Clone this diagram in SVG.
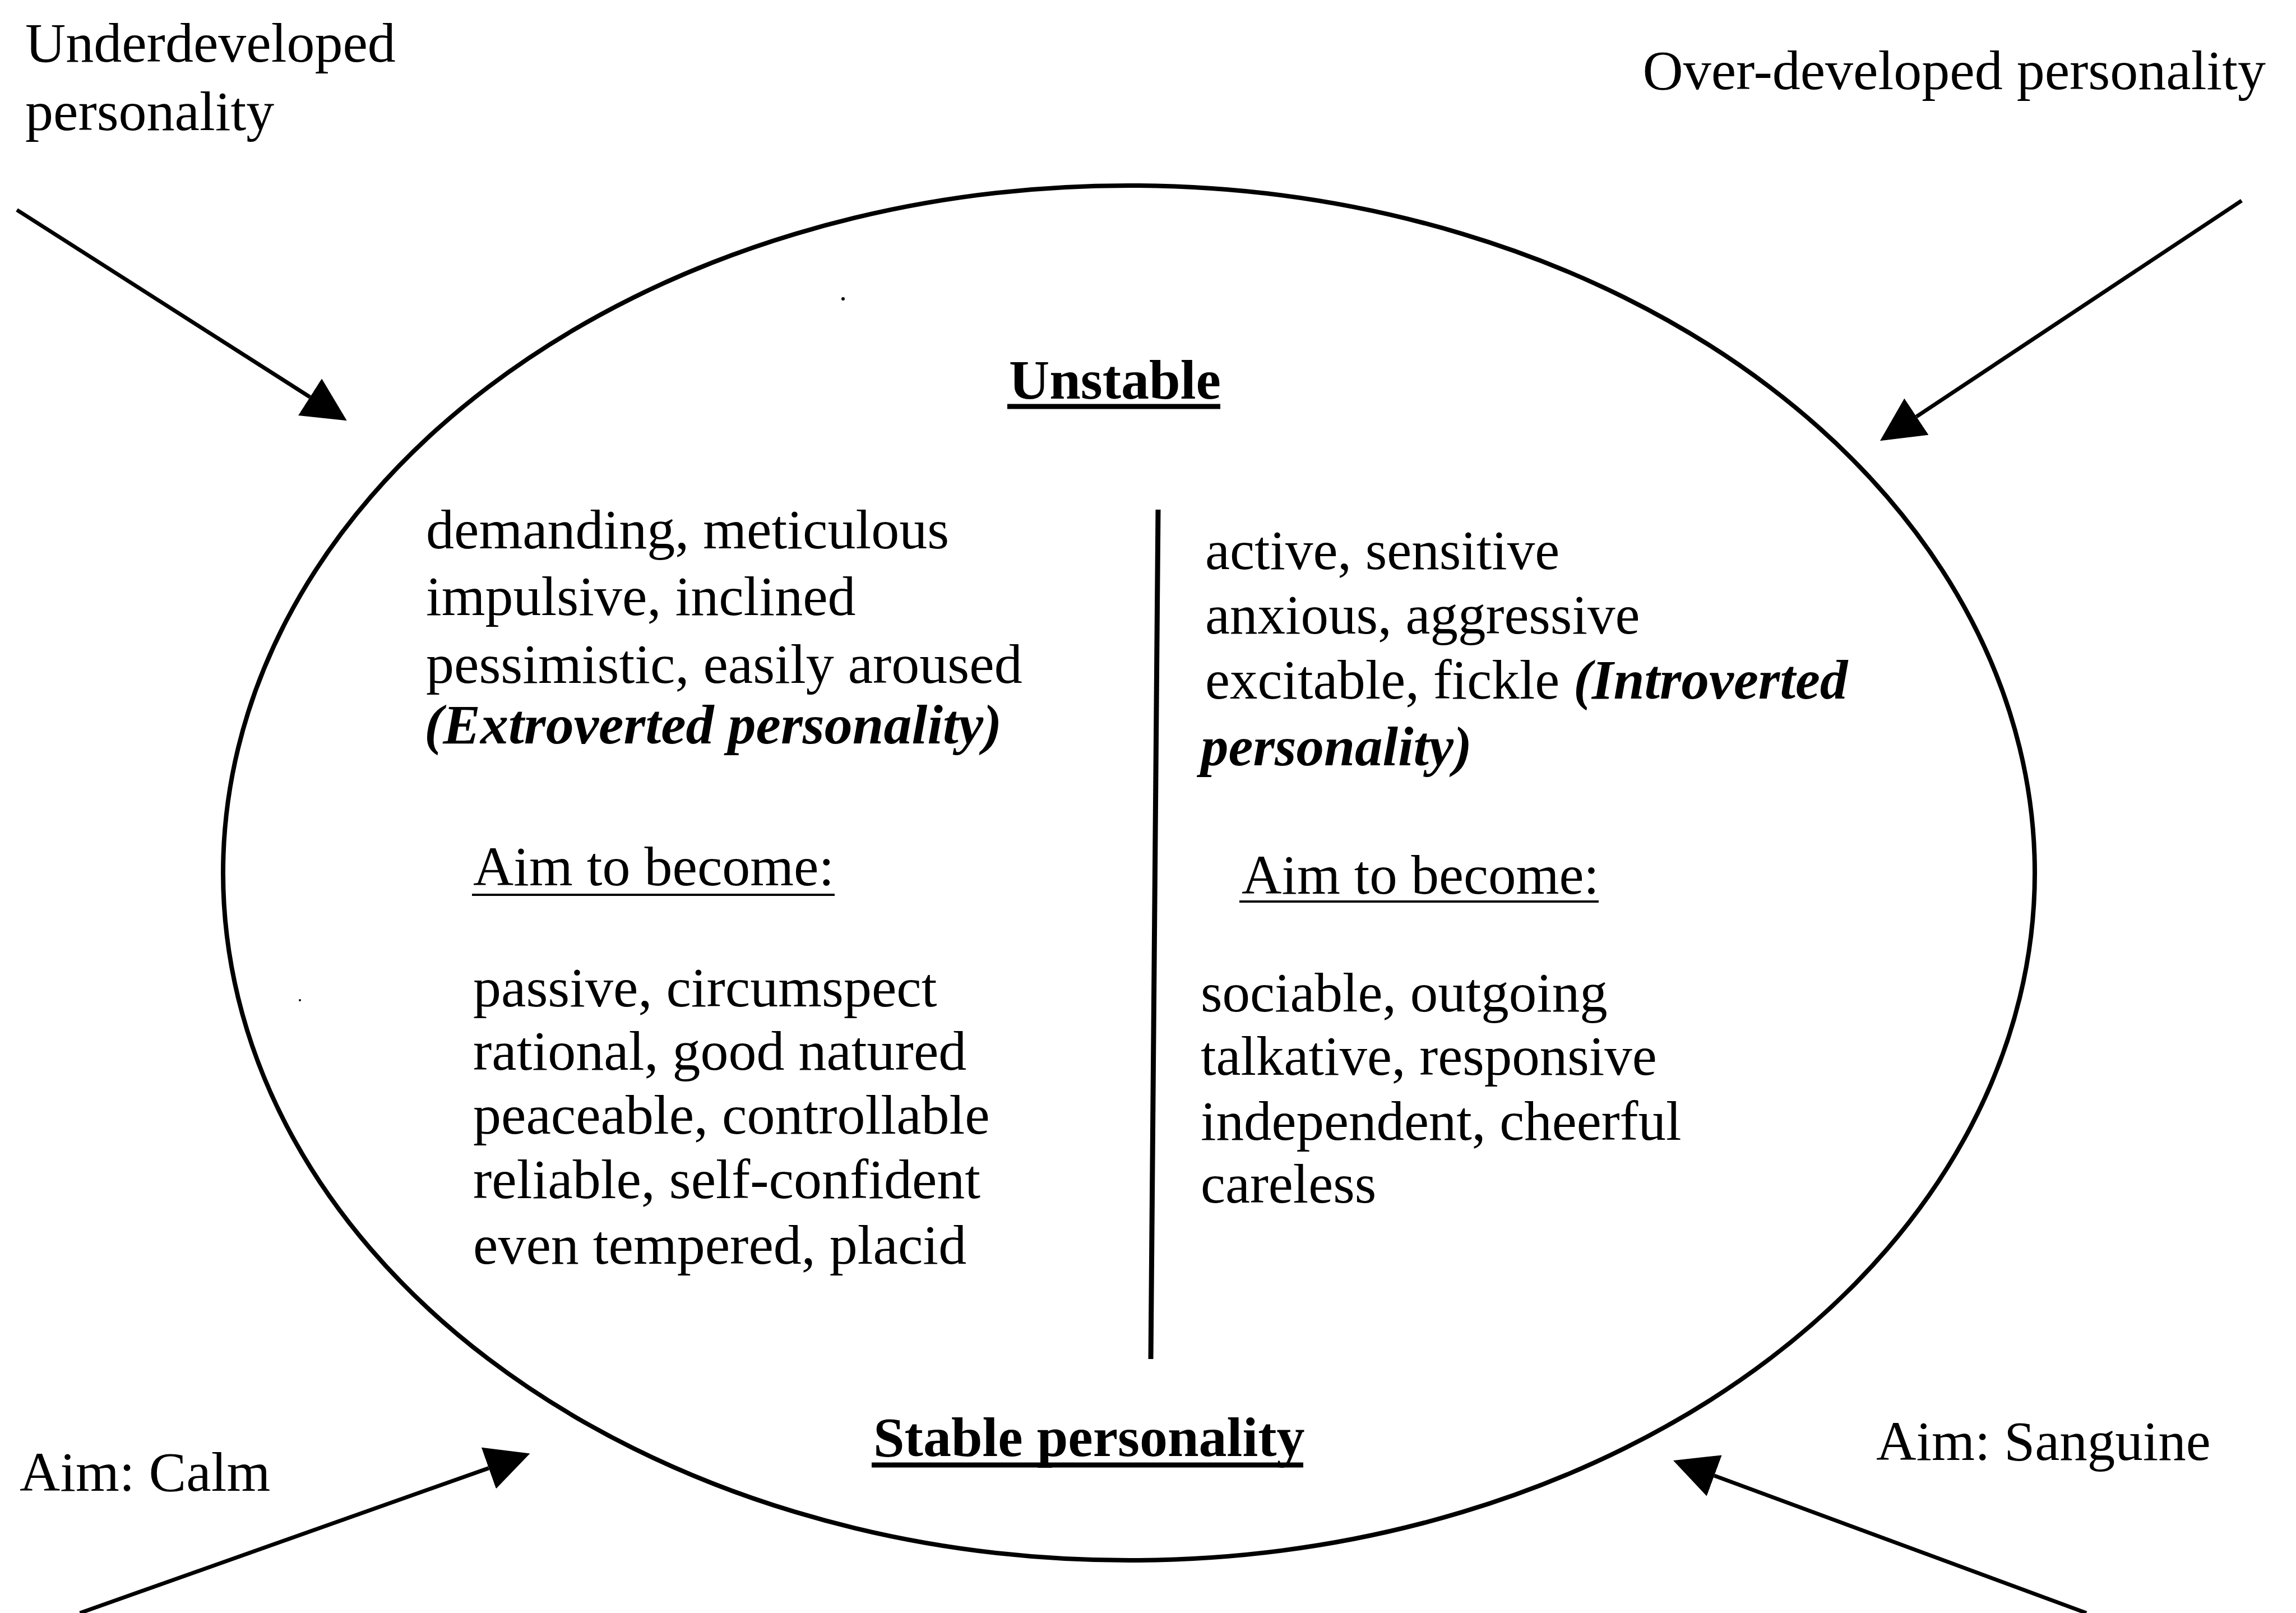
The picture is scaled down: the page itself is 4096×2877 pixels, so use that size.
<svg xmlns="http://www.w3.org/2000/svg" width="4096" height="2877" viewBox="0 0 4096 2877">
<defs>
<marker id="ah" markerUnits="userSpaceOnUse" markerWidth="78" markerHeight="78" viewBox="0 0 78 78" refX="0" refY="39" orient="auto"><path d="M0,0 L78,39 L0,78 Z" fill="#000"/></marker>
<style>
text{font-family:"Liberation Serif","Times New Roman",serif;font-size:100px;fill:#000}
.r{font-size:99px}
.b{font-weight:bold}
.bi{font-weight:bold;font-style:italic}
.ul{stroke:#000;fill:none}
.conn{stroke:#000;stroke-width:7;fill:none;marker-end:url(#ah)}
.shape{stroke:#000;fill:none}
</style>
</defs>
<rect width="4096" height="2877" fill="#fff"/>

<g id="ellipse">
<ellipse class="shape" cx="2014" cy="1557" rx="1616" ry="1226" stroke-width="8"/>
</g>

<g id="divider">
<line class="shape" x1="2066" y1="909" x2="2053" y2="2424" stroke-width="9"/>
</g>

<g id="connectors">
<path class="conn" d="M30.1,374.4 L553.0,708.2"/>
<path class="conn" d="M3999,357.8 L3418.9,743.1"/>
<path class="conn" d="M142.6,2877 L871.9,2618.6"/>
<path class="conn" d="M3722.1,2877 L3058.2,2632"/>
</g>

<g id="label-underdeveloped">
<text x="45" y="110">Underdeveloped</text>
<text x="45" y="232">personality</text>
</g>

<g id="label-overdeveloped">
<text x="4042" y="159" text-anchor="end">Over-developed personality</text>
</g>

<g id="title-unstable">
<text class="b" x="1800" y="711">Unstable</text>
<line class="ul" x1="1797" y1="725" x2="2177" y2="725" stroke-width="9"/>
</g>

<g id="extroverted">
<text x="760" y="978">demanding, meticulous</text>
<text x="760" y="1097">impulsive, inclined</text>
<text x="760" y="1218">pessimistic, easily aroused</text>
<text class="bi" x="757" y="1326">(Extroverted personality)</text>
</g>

<g id="introverted">
<text class="r" x="2150" y="1015">active, sensitive</text>
<text class="r" x="2150" y="1130">anxious, aggressive</text>
<text class="r" x="2150" y="1246">excitable, fickle <tspan class="bi">(Introverted</tspan></text>
<text class="r bi" x="2142" y="1365">personality)</text>
</g>

<g id="aim-left">
<text x="844" y="1579">Aim to become:</text>
<line class="ul" x1="842" y1="1596" x2="1489" y2="1596" stroke-width="4"/>
<text x="844" y="1795">passive, circumspect</text>
<text x="844" y="1908">rational, good natured</text>
<text x="844" y="2022">peaceable, controllable</text>
<text x="844" y="2137">reliable, self-confident</text>
<text x="844" y="2254">even tempered, placid</text>
</g>

<g id="aim-right">
<text class="r" x="2215" y="1594">Aim to become:</text>
<line class="ul" x1="2211" y1="1608" x2="2852" y2="1608" stroke-width="4"/>
<text class="r" x="2142" y="1804">sociable, outgoing</text>
<text class="r" x="2142" y="1917">talkative, responsive</text>
<text class="r" x="2142" y="2033">independent, cheerful</text>
<text class="r" x="2142" y="2145">careless</text>
</g>

<g id="title-stable">
<text class="b" x="1558" y="2597">Stable personality</text>
<line class="ul" x1="1555" y1="2613" x2="2325" y2="2613" stroke-width="9"/>
</g>

<g id="label-calm">
<text x="35" y="2659">Aim: Calm</text>
</g>

<g id="label-sanguine">
<text class="r" x="3347" y="2604">Aim: Sanguine</text>
</g>

<g id="specks">
<circle cx="1504" cy="533" r="3" fill="#000"/>
<circle cx="535" cy="1784" r="2" fill="#000"/>
</g>
</svg>
